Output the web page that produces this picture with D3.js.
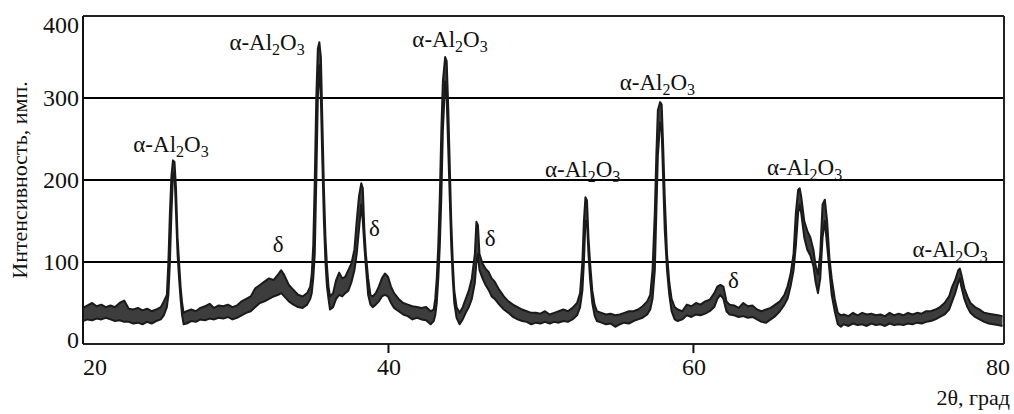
<!DOCTYPE html>
<html>
<head>
<meta charset="utf-8">
<script src="https://cdn.jsdelivr.net/npm/d3@7/dist/d3.min.js"></script>
<style>
  html, body { margin: 0; padding: 0; background: #fff; }
  svg { display: block; }
</style>
</head>
<body>
<svg id="chart" width="1014" height="414"></svg>
<script>
// ---- data ----
const xTicks = [20, 40, 60, 80];
const yTicks = [0, 100, 200, 300, 400];
const gridValues = [100, 200, 300];

// XRD pattern: [2theta, lower edge of noisy band, upper edge of band]
const pattern = [
  [20.0,28,44],[20.3,30,47],[20.6,29,50],[20.9,31,46],[21.2,30,48],[21.5,32,45],[21.8,30,47],
  [22.1,28,45],[22.4,29,50],[22.7,27,53],[23.0,27,43],[23.3,25,42],[23.6,26,44],[23.9,24,41],
  [24.2,27,43],[24.5,25,40],[24.8,28,42],[25.1,30,45],[25.3,35,52],[25.5,45,60],[25.6,60,100],
  [25.7,100,160],[25.8,160,205],[25.9,205,224],[26.0,210,222],[26.1,160,190],[26.2,110,130],
  [26.3,80,100],[26.4,55,70],[26.5,35,50],[26.6,24,38],[26.8,25,40],[27.1,28,42],[27.4,27,40],
  [27.7,30,44],[28.0,29,46],[28.3,31,49],[28.6,30,44],[28.9,32,47],[29.2,31,46],[29.5,33,48],
  [29.8,30,45],[30.1,32,47],[30.4,35,52],[30.7,38,55],[31.0,40,58],[31.3,45,68],[31.6,50,72],
  [31.9,52,76],[32.2,55,80],[32.5,58,78],[32.8,60,85],[33.0,62,90],[33.2,58,84],[33.5,52,72],
  [33.8,48,66],[34.1,45,60],[34.4,44,58],[34.7,48,62],[34.9,55,70],[35.0,62,85],[35.1,80,120],
  [35.2,110,200],[35.3,200,300],[35.4,300,360],[35.5,340,368],[35.6,300,350],[35.7,220,270],
  [35.8,150,190],[35.9,100,130],[36.0,70,95],[36.1,55,70],[36.2,42,58],[36.4,45,62],[36.6,55,78],
  [36.8,60,87],[37.0,58,80],[37.2,62,82],[37.4,65,90],[37.6,75,98],[37.8,90,115],[37.95,110,150],
  [38.1,140,180],[38.25,170,196],[38.35,150,190],[38.45,120,140],[38.55,95,110],[38.7,60,80],
  [38.85,48,60],[39.0,45,58],[39.2,48,62],[39.4,52,70],[39.6,58,80],[39.8,60,86],[40.0,58,82],
  [40.2,50,70],[40.4,44,62],[40.7,40,55],[41.0,36,50],[41.3,34,48],[41.6,30,46],[41.9,32,45],
  [42.2,30,44],[42.5,29,45],[42.8,24,40],[43.0,28,42],[43.1,35,55],[43.2,50,80],[43.3,80,120],
  [43.4,120,180],[43.5,180,260],[43.6,260,320],[43.75,320,350],[43.85,300,345],[43.95,240,290],
  [44.05,180,220],[44.15,120,150],[44.25,80,100],[44.35,50,65],[44.5,32,45],[44.7,24,38],
  [44.9,30,45],[45.1,38,55],[45.3,45,65],[45.5,55,80],[45.7,75,110],[45.8,100,149],[45.9,110,145],
  [46.0,90,110],[46.2,80,98],[46.4,72,92],[46.6,66,88],[46.8,58,80],[47.0,55,76],[47.3,48,66],
  [47.6,42,58],[47.9,38,52],[48.2,33,48],[48.5,30,45],[48.8,28,42],[49.1,27,40],[49.4,24,38],
  [49.7,26,38],[50.0,25,37],[50.3,27,40],[50.6,25,36],[50.9,27,38],[51.2,26,40],[51.5,28,42],
  [51.8,27,40],[52.1,30,44],[52.4,35,50],[52.6,45,62],[52.75,65,100],[52.85,100,150],
  [52.95,150,179],[53.05,150,175],[53.15,110,130],[53.25,80,100],[53.4,50,65],[53.55,35,48],
  [53.7,28,40],[54.0,26,38],[54.3,24,36],[54.6,25,37],[54.9,21,35],[55.2,24,36],[55.5,26,38],
  [55.8,25,40],[56.1,28,40],[56.4,30,42],[56.7,32,46],[57.0,36,52],[57.2,42,60],[57.35,55,90],
  [57.5,90,160],[57.6,160,230],[57.7,230,285],[57.85,270,295],[57.95,260,292],[58.05,200,240],
  [58.15,140,180],[58.3,90,110],[58.45,60,75],[58.6,40,55],[58.8,30,45],[59.0,28,42],[59.3,30,40],
  [59.6,35,48],[59.9,33,46],[60.2,36,50],[60.5,35,48],[60.8,37,52],[61.1,40,54],[61.4,45,62],
  [61.6,55,70],[61.8,60,72],[62.0,55,70],[62.2,40,52],[62.4,36,48],[62.7,35,47],[63.0,33,44],
  [63.3,34,50],[63.6,32,46],[63.9,33,47],[64.2,30,42],[64.5,27,40],[64.8,26,42],[65.1,30,44],
  [65.4,34,48],[65.7,40,52],[66.0,48,60],[66.2,55,70],[66.4,70,85],[66.6,90,110],[66.75,120,160],
  [66.9,160,188],[67.0,170,190],[67.1,160,180],[67.3,130,150],[67.5,115,138],[67.7,108,130],
  [67.9,95,115],[68.05,75,95],[68.2,62,85],[68.35,80,110],[68.5,130,170],[68.65,150,176],
  [68.8,120,150],[68.95,90,105],[69.1,60,80],[69.3,40,55],[69.5,24,38],[69.7,21,35],[69.9,24,36],
  [70.2,22,34],[70.5,25,38],[70.8,23,35],[71.1,24,38],[71.4,22,36],[71.7,25,37],[72.0,23,35],
  [72.3,24,36],[72.6,22,34],[72.9,25,38],[73.2,23,35],[73.5,24,37],[73.8,23,35],[74.1,25,38],
  [74.4,24,36],[74.7,26,38],[75.0,25,37],[75.3,27,40],[75.6,28,40],[75.9,30,42],[76.2,33,45],
  [76.5,36,50],[76.8,42,58],[77.0,52,70],[77.2,62,78],[77.4,75,90],[77.5,80,92],[77.6,70,85],
  [77.8,55,68],[78.0,45,58],[78.2,38,50],[78.5,33,45],[78.8,30,42],[79.1,27,38],[79.4,25,37],
  [79.7,24,36],[80.0,23,35],[80.3,22,34]
];

// phase labels: [2theta at left edge of text, intensity at text baseline]
const alphaLabels = [
  [23.3, 234],
  [29.6, 358],
  [41.6, 362],
  [50.3, 204],
  [55.2, 310],
  [64.85, 206],
  [74.4, 106]
];
const deltaLabels = [
  [32.45, 112],
  [38.75, 132],
  [46.35, 120],
  [62.3, 68]
];

const yTitle = "Интенсивность, имп.";
const xTitle = "2θ, град";

// ---- drawing ----
const FONT = "'Liberation Serif', 'DejaVu Serif', 'Times New Roman', serif";
const svg = d3.select("#chart").attr("font-family", FONT);
const L = 83, R = 1004, T = 16, B = 344;

const x = d3.scaleLinear().domain([20, 80.4]).range([L, R]);
const y = d3.scaleLinear().domain([0, 400]).range([B, T]);

// grid lines
svg.append("g").selectAll("line").data(gridValues).join("line")
  .attr("x1", L).attr("x2", R)
  .attr("y1", d => y(d)).attr("y2", d => y(d))
  .attr("stroke", "#000").attr("stroke-width", 2);

// pattern band
const area = d3.area()
  .x(d => x(d[0])).y0(d => y(d[1])).y1(d => y(d[2]))
  .curve(d3.curveLinear);
svg.append("path").datum(pattern)
  .attr("d", area).attr("fill", "#3d3d3d").attr("stroke", "none");

const lineLo = d3.line().x(d => x(d[0])).y(d => y(d[1]));
const lineHi = d3.line().x(d => x(d[0])).y(d => y(d[2]));
svg.append("path").datum(pattern).attr("d", lineLo)
  .attr("fill", "none").attr("stroke", "#1a1a1a").attr("stroke-width", 2).attr("stroke-linejoin", "round");
svg.append("path").datum(pattern).attr("d", lineHi)
  .attr("fill", "none").attr("stroke", "#1a1a1a").attr("stroke-width", 2).attr("stroke-linejoin", "round");

// frame
svg.append("line").attr("x1", L).attr("x2", R).attr("y1", T).attr("y2", T)
  .attr("stroke", "#222").attr("stroke-width", 2);
svg.append("line").attr("x1", R).attr("x2", R).attr("y1", T).attr("y2", B)
  .attr("stroke", "#222").attr("stroke-width", 2);

// x axis
const xAxis = d3.axisBottom(x).tickValues(xTicks).tickSize(9).tickFormat("");
const gx = svg.append("g").attr("transform", `translate(0,${B})`).call(xAxis);
gx.select(".domain").attr("stroke", "#222").attr("stroke-width", 2)
  .attr("d", `M${L},0H${R}`);
gx.selectAll(".tick line").attr("stroke", "#111").attr("stroke-width", 2)
  .attr("display", d => (d === 40 || d === 60) ? null : "none");

// x tick labels
svg.append("g").selectAll("text").data(xTicks).join("text")
  .attr("x", d => d === 20 ? x(d) + 12 : (d === 80 ? x(d) : x(d) + 1))
  .attr("y", 375)
  .attr("text-anchor", "middle")
  .attr("font-family", FONT)
  .attr("font-size", 24)
  .attr("fill", "#111")
  .text(d => d);

// y axis
const yAxis = d3.axisLeft(y).tickValues(yTicks).tickSize(0).tickFormat("");
const gy = svg.append("g").attr("transform", `translate(${L},0)`).call(yAxis);
gy.select(".domain").attr("stroke", "#111").attr("stroke-width", 2)
  .attr("d", `M0,${T}V${B}`);

svg.append("g").selectAll("text").data(yTicks).join("text")
  .attr("x", 79)
  .attr("y", d => y(d) + (d === 400 ? 17 : (d === 0 ? 4 : 8)))
  .attr("text-anchor", "end")
  .attr("font-family", FONT)
  .attr("font-size", 24)
  .attr("fill", "#111")
  .text(d => d);

// axis titles
svg.append("text")
  .attr("transform", `translate(27,180) rotate(-90)`)
  .attr("text-anchor", "middle")
  .attr("font-family", FONT)
  .attr("font-size", 22)
  .attr("fill", "#111")
  .text(yTitle);

svg.append("text")
  .attr("x", 1010).attr("y", 405)
  .attr("text-anchor", "end")
  .attr("font-family", FONT)
  .attr("font-size", 22)
  .attr("fill", "#111")
  .text(xTitle);

// α-Al2O3 labels
const aG = svg.append("g").selectAll("text").data(alphaLabels).join("text")
  .attr("x", d => x(d[0])).attr("y", d => y(d[1]))
  .attr("font-family", FONT)
  .attr("font-size", 23)
  .attr("fill", "#111");
aG.each(function() {
  const t = d3.select(this);
  t.append("tspan").text("α-Al");
  t.append("tspan").attr("font-size", 16).attr("dy", 5).text("2");
  t.append("tspan").attr("dy", -5).text("O");
  t.append("tspan").attr("font-size", 16).attr("dy", 5).text("3");
});

// δ labels
svg.append("g").selectAll("text").data(deltaLabels).join("text")
  .attr("x", d => x(d[0])).attr("y", d => y(d[1]))
  .attr("font-family", FONT)
  .attr("font-size", 23)
  .attr("fill", "#111")
  .text("δ");
</script>
</body>
</html>
